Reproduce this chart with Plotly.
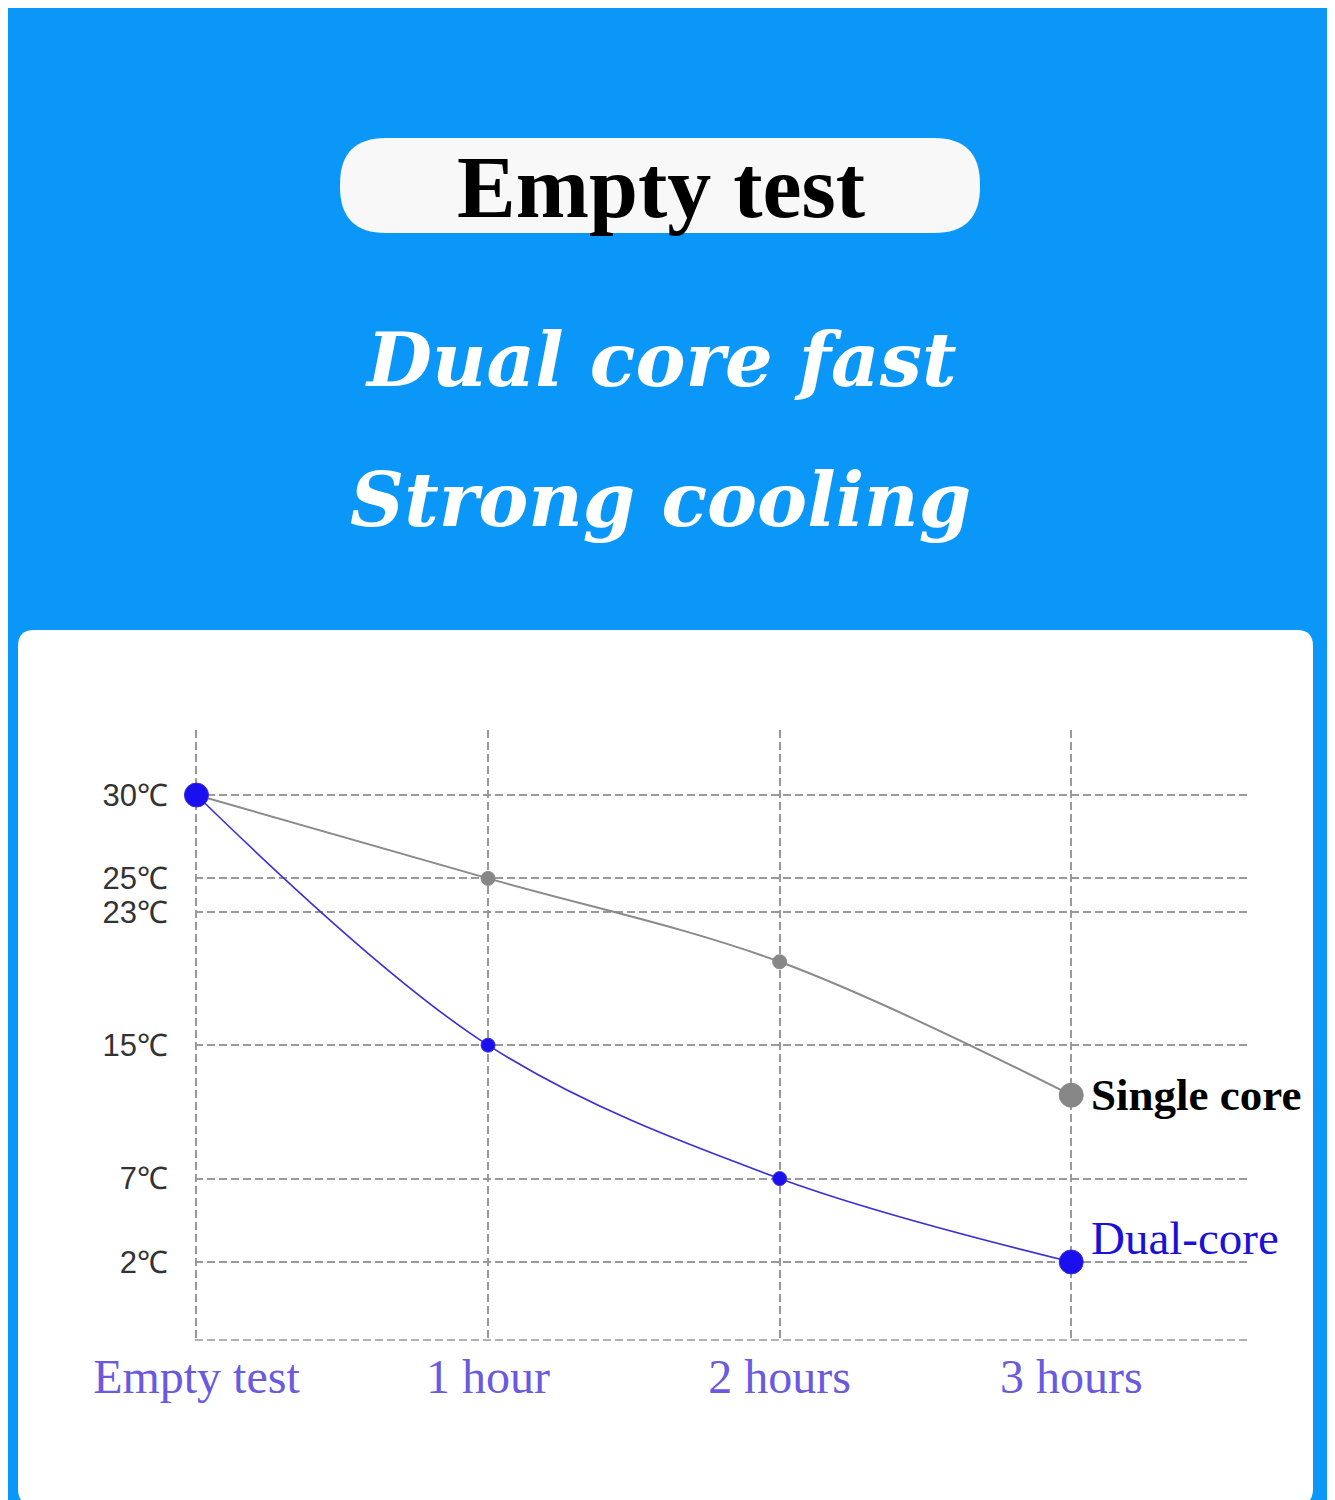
import plotly.graph_objects as go

# the page body adds an 8px margin, so the figure is laid out in page pixels minus that
OFF = 8
W, H = 1335 - OFF, 1500 - OFF

periods = ['Empty test', '1 hour', '2 hours', '3 hours']
single_core = [30, 25, 20, 12]
dual_core = [30, 15, 7, 2]
temp_ticks = [30, 25, 23, 15, 7, 2]
temp_labels = ['30℃', '25℃', '23℃', '15℃', '7℃', '2℃']

BLUE_BG = '#0A97F7'
GRID = '#9a9a9a'


def px(x):
    return (x - OFF) / W


def py(y):
    return 1 - (y - OFF) / H


def rounded_rect(x0, y0, x1, y1, r):
    # pixel box -> paper path with rounded corners
    return (f"M {px(x0 + r)},{py(y0)} L {px(x1 - r)},{py(y0)} "
            f"Q {px(x1)},{py(y0)} {px(x1)},{py(y0 + r)} L {px(x1)},{py(y1 - r)} "
            f"Q {px(x1)},{py(y1)} {px(x1 - r)},{py(y1)} L {px(x0 + r)},{py(y1)} "
            f"Q {px(x0)},{py(y1)} {px(x0)},{py(y1 - r)} L {px(x0)},{py(y0 + r)} "
            f"Q {px(x0)},{py(y0)} {px(x0 + r)},{py(y0)} Z")


xs = list(range(len(periods)))

fig = go.Figure()

fig.add_trace(go.Scatter(
    x=xs, y=single_core, mode='lines+markers',
    line=dict(color='#8a8a8a', width=2, shape='spline', smoothing=1.0),
    marker=dict(color='#878787', size=[22, 14, 14, 24], opacity=1),
    cliponaxis=False, showlegend=False, hoverinfo='skip'
))
fig.add_trace(go.Scatter(
    x=xs, y=dual_core, mode='lines+markers',
    line=dict(color='#3a2fd6', width=1.6, shape='spline', smoothing=1.0),
    marker=dict(color='#1a0fee', size=[24, 14, 14, 24], opacity=1),
    cliponaxis=False, showlegend=False, hoverinfo='skip'
))

shapes = [
    dict(type='rect', xref='paper', yref='paper', x0=0, x1=px(1330), y0=0, y1=1,
         fillcolor=BLUE_BG, line_width=0, layer='below'),
    dict(type='path', xref='paper', yref='paper', path=rounded_rect(18, 630, 1313, 1505, 16),
         fillcolor='white', line_width=0, layer='below'),
    dict(type='path', xref='paper', yref='paper', path=rounded_rect(340, 138, 980, 233, 46),
         fillcolor='#f8f8f8', line_width=0, layer='below'),
    # dashed baseline of the plot
    dict(type='line', xref='x domain', yref='y domain', x0=0, x1=1, y0=0, y1=0,
         line=dict(color=GRID, width=1.5, dash='8px,4px'), layer='below'),
]

annotations = [
    dict(text='<b>Empty test</b>', x=px(661), y=py(188), xref='paper', yref='paper',
         xanchor='center', yanchor='middle', showarrow=False,
         font=dict(family='Liberation Serif', size=88, color='black')),
    dict(text='<b><i>Dual core fast</i></b>', x=px(661), y=py(360), xref='paper', yref='paper',
         xanchor='center', yanchor='middle', showarrow=False,
         font=dict(family='DejaVu Serif', size=75, color='white')),
    dict(text='<b><i>Strong cooling</i></b>', x=px(660), y=py(500), xref='paper', yref='paper',
         xanchor='center', yanchor='middle', showarrow=False,
         font=dict(family='DejaVu Serif', size=75, color='white')),
    dict(text='<b>Single core</b>', x=xs[-1], y=single_core[-1], xref='x', yref='y',
         xanchor='left', yanchor='middle', xshift=18, showarrow=False,
         font=dict(family='Liberation Serif', size=45, color='black')),
    dict(text='Dual-core', x=xs[-1], y=dual_core[-1], xref='x', yref='y',
         xanchor='left', yanchor='middle', xshift=18, yshift=24, showarrow=False,
         font=dict(family='Liberation Serif', size=47, color='#1a10d8')),
]

fig.update_layout(
    width=W, height=H,
    margin=dict(l=0, r=0, t=0, b=0, autoexpand=False),
    paper_bgcolor='white', plot_bgcolor='rgba(0,0,0,0)',
    shapes=shapes, annotations=annotations,
    xaxis=dict(
        domain=[px(195), px(1250)], range=[-0.005, 3.613],
        tickmode='array', tickvals=xs, ticktext=periods,
        tickfont=dict(family='Liberation Serif', size=48, color='#6a5ae0'),
        showgrid=True, gridcolor=GRID, gridwidth=1.5, griddash='8px,4px',
        zeroline=False, showline=False, ticks='', ticklabelstandoff=4,
    ),
    yaxis=dict(
        domain=[py(1340), py(730)], range=[-2.68, 33.9],
        tickmode='array', tickvals=temp_ticks, ticktext=temp_labels,
        tickfont=dict(family='Liberation Sans', size=31, color='#333333'),
        showgrid=True, gridcolor=GRID, gridwidth=1.5, griddash='8px,4px',
        zeroline=False, showline=False, ticks='', ticklabelstandoff=26,
    ),
)

fig.write_html('out.html')
